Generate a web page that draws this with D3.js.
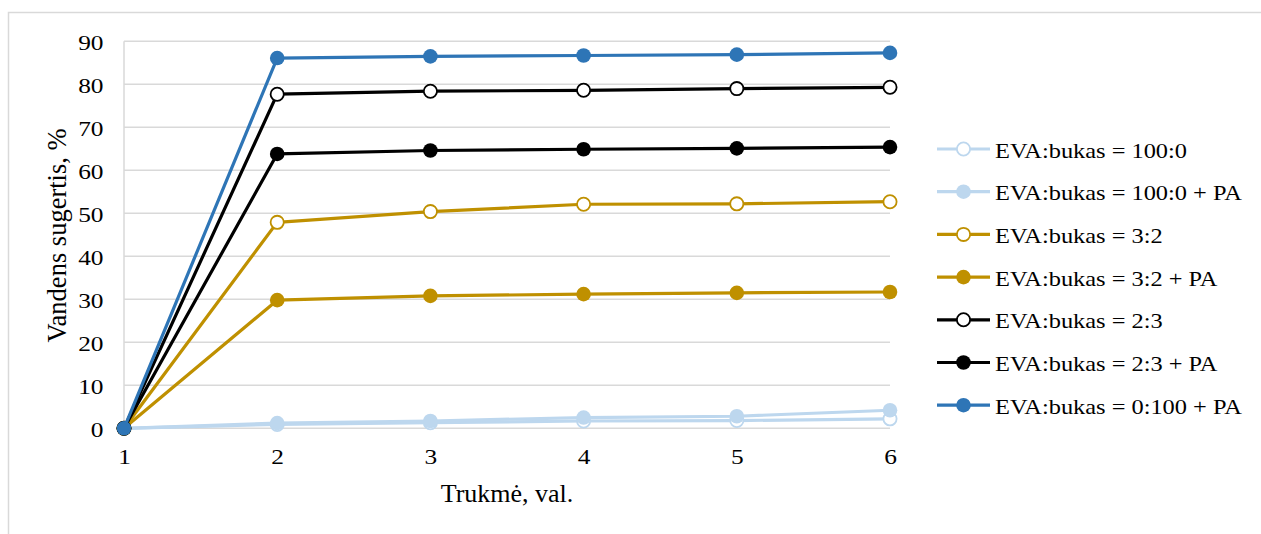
<!DOCTYPE html>
<html><head><meta charset="utf-8">
<script src="https://cdn.jsdelivr.net/npm/d3@7"></script>
<style>
html,body{margin:0;padding:0;background:#fff;}
svg text{font-family:'Liberation Serif','Times New Roman','DejaVu Serif',serif;fill:#000;}
</style></head>
<body>
<svg id="c" width="1261" height="534"></svg>
<script>
const hours = [1, 2, 3, 4, 5, 6];
const yTicks = [0, 10, 20, 30, 40, 50, 60, 70, 80, 90];
const seriesNames = [
  "EVA:bukas = 100:0",
  "EVA:bukas = 100:0 + PA",
  "EVA:bukas = 3:2",
  "EVA:bukas = 3:2 + PA",
  "EVA:bukas = 2:3",
  "EVA:bukas = 2:3 + PA",
  "EVA:bukas = 0:100 + PA"
];
const eva100 = [0, 0.9, 1.3, 1.7, 1.8, 2.2];
const eva100PA = [0, 1.2, 1.7, 2.5, 2.8, 4.2];
const eva32 = [0, 47.9, 50.4, 52.1, 52.2, 52.7];
const eva32PA = [0, 29.8, 30.8, 31.2, 31.5, 31.7];
const eva23 = [0, 77.7, 78.4, 78.6, 79.0, 79.3];
const eva23PA = [0, 63.8, 64.6, 64.9, 65.1, 65.4];
const eva0PA = [0, 86.1, 86.5, 86.7, 86.9, 87.3];
const seriesValues = [eva100, eva100PA, eva32, eva32PA, eva23, eva23PA, eva0PA];
const seriesColors = ["#BDD7EE", "#BDD7EE", "#BF9000", "#BF9000", "#000000", "#000000", "#2E75B6"];
const seriesFilled = [false, true, false, true, false, true, true];

const svg = d3.select("#c");
svg.append("rect").attr("x", 8.5).attr("y", 12.5).attr("width", 1300).attr("height", 600)
  .attr("fill", "none").attr("stroke", "#D9D9D9").attr("stroke-width", 1.5);

function stretch(sel, factor) {
  sel.each(function () {
    const n = this.getComputedTextLength();
    d3.select(this).attr("textLength", n * factor).attr("lengthAdjust", "spacingAndGlyphs");
  });
}

const L = 124, R = 890, T = 41.3, B = 428.3;
const x = d3.scaleLinear().domain([1, 6]).range([L, R]);
const y = d3.scaleLinear().domain([0, 90]).range([B, T]);

svg.append("g").selectAll("line").data(yTicks).join("line")
  .attr("x1", L).attr("x2", R).attr("y1", d => y(d)).attr("y2", d => y(d))
  .attr("stroke", "#D9D9D9").attr("stroke-width", 1.5);
svg.append("line").attr("x1", L).attr("x2", L).attr("y1", T).attr("y2", B)
  .attr("stroke", "#D9D9D9").attr("stroke-width", 1.5);

const TICK_FS = 21.5;
const yAxis = d3.axisLeft(y).tickValues(yTicks).tickSize(0).tickPadding(20.5);
const gy = svg.append("g").attr("transform", `translate(${L},0)`).call(yAxis)
  .attr("font-family", null).attr("font-size", null);
gy.select(".domain").remove();
gy.selectAll("text").attr("fill", "#000").style("font-size", TICK_FS + "px")
  .attr("dy", null).attr("y", 8.3);
stretch(gy.selectAll("text"), 1.18);

const xAxis = d3.axisBottom(x).tickValues(hours).tickFormat(d3.format("d")).tickSize(0);
const gx = svg.append("g").attr("transform", `translate(0,${B})`).call(xAxis)
  .attr("font-family", null).attr("font-size", null);
gx.select(".domain").remove();
gx.selectAll("text").attr("fill", "#000").style("font-size", TICK_FS + "px")
  .attr("dy", null).attr("y", 464 - B);
stretch(gx.selectAll("text"), 1.18);

svg.append("text").attr("x", 507).attr("y", 502).attr("text-anchor", "middle")
  .style("font-size", "26px").text("Trukmė, val.");
svg.append("text").attr("transform", "translate(65.5,235.5) rotate(-90)").attr("text-anchor", "middle")
  .style("font-size", "26.5px").text("Vandens sugertis, %");

const line = d3.line().x((d, i) => x(hours[i])).y(d => y(d));
seriesValues.forEach((vals, s) => {
  const g = svg.append("g");
  g.append("path").datum(vals).attr("d", line).attr("fill", "none")
    .attr("stroke", seriesColors[s]).attr("stroke-width", 3.2).attr("stroke-linejoin", "round");
  g.selectAll("circle").data(vals).join("circle")
    .attr("cx", (d, i) => x(hours[i])).attr("cy", d => y(d)).attr("r", seriesFilled[s] ? 7.3 : 6.6)
    .attr("fill", seriesFilled[s] ? seriesColors[s] : "#fff")
    .attr("stroke", seriesColors[s]).attr("stroke-width", seriesFilled[s] ? 0 : 1.8);
});

const leg = svg.append("g");
const legTexts = [];
seriesNames.forEach((name, s) => {
  const ly = 149 + s * 42.7;
  leg.append("line").attr("x1", 937).attr("x2", 990).attr("y1", ly).attr("y2", ly)
    .attr("stroke", seriesColors[s]).attr("stroke-width", 3.2);
  leg.append("circle").attr("cx", 963.5).attr("cy", ly).attr("r", seriesFilled[s] ? 7.3 : 6.6)
    .attr("fill", seriesFilled[s] ? seriesColors[s] : "#fff")
    .attr("stroke", seriesColors[s]).attr("stroke-width", seriesFilled[s] ? 0 : 1.8);
  legTexts.push(leg.append("text").attr("x", 995).attr("y", ly + 8.5)
    .style("font-size", TICK_FS + "px").text(name).node());
});
const legFactor = 192 / legTexts[0].getComputedTextLength();
stretch(d3.selectAll(legTexts), legFactor);
</script>
</body></html>
